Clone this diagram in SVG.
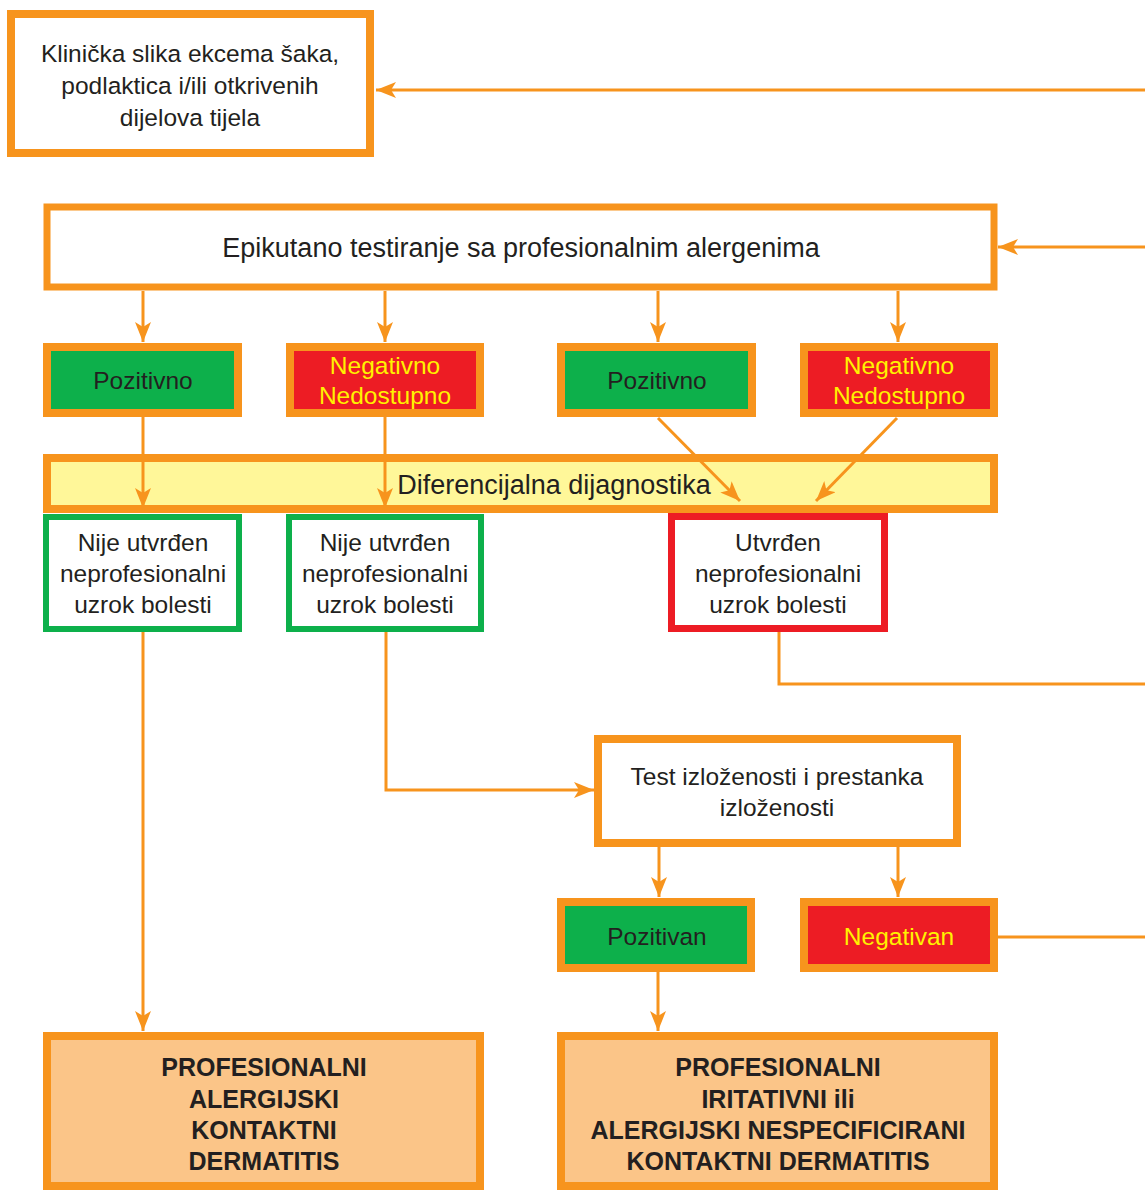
<svg xmlns="http://www.w3.org/2000/svg" width="1145" height="1190" viewBox="0 0 1145 1190">
  <defs>
    <marker id="arrow" viewBox="0 0 20 16" refX="20" refY="8" markerWidth="20" markerHeight="16" markerUnits="userSpaceOnUse" orient="auto">
      <path d="M0,0 L20,8 L0,16 L5,8 z" fill="#F7941D"/>
    </marker>
    <style>
      .box { stroke: #F7941D; stroke-width: 8; }
      .white { fill: #FFFFFF; }
      .pos { fill: #0DB04B; }
      .neg { fill: #ED1C24; }
      .diff { fill: #FFF799; }
      .final { fill: #FBC588; }
      .gbox { fill: #FFFFFF; stroke: #0DB04B; stroke-width: 6; }
      .rbox { fill: #FFFFFF; stroke: #ED1C24; stroke-width: 7; }
      text { font-family: "Liberation Sans", Arial, sans-serif; font-size: 24.5px; fill: #231F20; text-anchor: middle; }
      .big { font-size: 27px; }
      .y { fill: #FFF200; }
      .b { font-weight: bold; font-size: 25px; }
      .conn { fill: none; stroke: #F7941D; stroke-width: 3; }
      .arr { marker-end: url(#arrow); }
    </style>
  </defs>

  <g id="clinical-picture">
    <rect class="box white" x="11" y="14" width="359" height="139"/>
    <text x="190" y="62">Klinička slika ekcema šaka,</text>
    <text x="190" y="94">podlaktica i/ili otkrivenih</text>
    <text x="190" y="126">dijelova tijela</text>
  </g>

  <g id="patch-test">
    <rect class="box white" x="47" y="207" width="947" height="80" style="stroke-width:7"/>
    <text class="big" x="521" y="257">Epikutano testiranje sa profesionalnim alergenima</text>
  </g>

  <g id="positive-1">
    <rect class="box pos" x="47" y="347" width="191" height="66"/>
    <text x="143" y="389">Pozitivno</text>
  </g>
  <g id="negative-1">
    <rect class="box neg" x="290" y="347" width="190" height="66"/>
    <text class="y" x="385" y="374">Negativno</text>
    <text class="y" x="385" y="404">Nedostupno</text>
  </g>
  <g id="positive-2">
    <rect class="box pos" x="561" y="347" width="191" height="66"/>
    <text x="657" y="389">Pozitivno</text>
  </g>
  <g id="negative-2">
    <rect class="box neg" x="804" y="347" width="190" height="66"/>
    <text class="y" x="899" y="374">Negativno</text>
    <text class="y" x="899" y="404">Nedostupno</text>
  </g>

  <g id="differential">
    <rect class="box diff" x="47" y="458" width="947" height="51"/>
    <text class="big" x="554" y="494">Diferencijalna dijagnostika</text>
  </g>

  <g id="not-established-1">
    <rect class="gbox" x="46" y="517" width="193" height="112"/>
    <text x="143" y="551">Nije utvrđen</text>
    <text x="143" y="582">neprofesionalni</text>
    <text x="143" y="613">uzrok bolesti</text>
  </g>
  <g id="not-established-2">
    <rect class="gbox" x="289" y="517" width="192" height="112"/>
    <text x="385" y="551">Nije utvrđen</text>
    <text x="385" y="582">neprofesionalni</text>
    <text x="385" y="613">uzrok bolesti</text>
  </g>
  <g id="established">
    <rect class="rbox" x="671.5" y="516.5" width="213" height="112"/>
    <text x="778" y="551">Utvrđen</text>
    <text x="778" y="582">neprofesionalni</text>
    <text x="778" y="613">uzrok bolesti</text>
  </g>

  <g id="exposure-test">
    <rect class="box white" x="598" y="739" width="359" height="104"/>
    <text x="777" y="785">Test izloženosti i prestanka</text>
    <text x="777" y="816">izloženosti</text>
  </g>

  <g id="positive-exposure">
    <rect class="box pos" x="561" y="902" width="190" height="66"/>
    <text x="657" y="945">Pozitivan</text>
  </g>
  <g id="negative-exposure">
    <rect class="box neg" x="804" y="902" width="190" height="66"/>
    <text class="y" x="899" y="945">Negativan</text>
  </g>

  <g id="allergic-contact-dermatitis">
    <rect class="box final" x="47" y="1036" width="433" height="150"/>
    <text class="b" x="264" y="1076">PROFESIONALNI</text>
    <text class="b" x="264" y="1108">ALERGIJSKI</text>
    <text class="b" x="264" y="1139">KONTAKTNI</text>
    <text class="b" x="264" y="1170">DERMATITIS</text>
  </g>
  <g id="irritant-contact-dermatitis">
    <rect class="box final" x="561" y="1036" width="433" height="150"/>
    <text class="b" x="778" y="1076">PROFESIONALNI</text>
    <text class="b" x="778" y="1108">IRITATIVNI ili</text>
    <text class="b" x="778" y="1139">ALERGIJSKI NESPECIFICIRANI</text>
    <text class="b" x="778" y="1170">KONTAKTNI DERMATITIS</text>
  </g>

  <!-- connectors, drawn on top so they cross the differential bar -->
  <g id="connectors">
    <line class="conn arr" x1="1145" y1="90" x2="376" y2="90"/>
    <line class="conn arr" x1="1145" y1="247" x2="998" y2="247"/>
    <line class="conn arr" x1="143" y1="291" x2="143" y2="342"/>
    <line class="conn arr" x1="385" y1="291" x2="385" y2="342"/>
    <line class="conn arr" x1="658" y1="291" x2="658" y2="342"/>
    <line class="conn arr" x1="898" y1="291" x2="898" y2="342"/>
    <line class="conn arr" x1="143" y1="417" x2="143" y2="508"/>
    <line class="conn arr" x1="385" y1="417" x2="385" y2="508"/>
    <line class="conn arr" x1="658" y1="418" x2="740" y2="501"/>
    <line class="conn arr" x1="897" y1="418" x2="816" y2="501"/>
    <polyline class="conn" points="779,632 779,684 1145,684"/>
    <line class="conn arr" x1="143" y1="632" x2="143" y2="1031"/>
    <polyline class="conn arr" points="386,632 386,790 594,790"/>
    <line class="conn arr" x1="659" y1="847" x2="659" y2="897"/>
    <line class="conn arr" x1="898" y1="847" x2="898" y2="897"/>
    <line class="conn" x1="998" y1="937" x2="1145" y2="937"/>
    <line class="conn arr" x1="658" y1="972" x2="658" y2="1031"/>
  </g>
</svg>
